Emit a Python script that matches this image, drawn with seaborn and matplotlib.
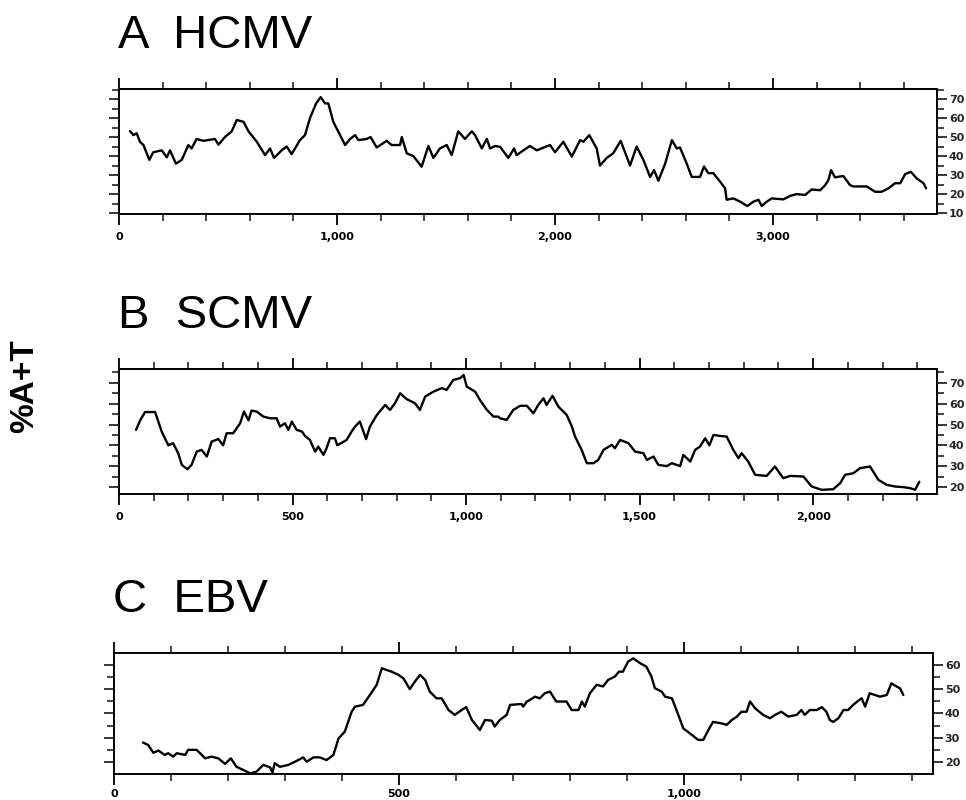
import numpy as np
import pandas as pd
import matplotlib
matplotlib.use("Agg")
import matplotlib.pyplot as plt
from matplotlib.ticker import MultipleLocator, FuncFormatter
import seaborn as sns

# HCMV: position (bp) and %A+T
hcmv_pos = [50, 66, 81, 96, 112, 139, 157, 196, 219, 234, 261, 288, 318, 333, 356, 387,
            440, 456, 486, 517, 540, 571, 594, 632, 670, 693, 711, 746, 769, 792, 830, 853,
            876, 904, 925, 945, 960, 983, 1014, 1037, 1060, 1083, 1098, 1136, 1154, 1182,
            1228, 1250, 1289, 1297, 1320, 1350, 1388, 1419, 1442, 1472, 1503, 1526, 1556,
            1587, 1618, 1633, 1664, 1687, 1702, 1725, 1748, 1786, 1812, 1824, 1855, 1885,
            1916, 1977, 2000, 2038, 2077, 2115, 2130, 2157, 2191, 2206, 2237, 2267, 2301,
            2344, 2374, 2405, 2436, 2454, 2474, 2505, 2536, 2558, 2573, 2604, 2627, 2665,
            2683, 2703, 2726, 2757, 2780, 2787, 2818, 2849, 2882, 2910, 2933, 2948, 2971,
            2994, 3047, 3078, 3108, 3147, 3177, 3216, 3239, 3254, 3266, 3284, 3322, 3353,
            3368, 3429, 3468, 3498, 3529, 3560, 3583, 3606, 3632, 3659, 3690, 3702]
hcmv_at = [53.2, 51, 52, 47.5, 45.8, 38, 42, 43, 39.3, 43, 36, 38, 45.8, 44, 49, 48,
           49, 46, 50, 53, 59, 58, 53, 47.5, 40.5, 44, 39, 43, 45, 41, 48.4, 51,
           60, 67.7, 71, 67.7, 67.7, 58, 51, 45.8, 49, 51, 48.4, 49, 50, 44.5,
           48, 45.8, 45.8, 50, 41.4, 40, 34.4, 45.3, 39, 44, 45.8, 40.5, 53,
           49, 53, 51, 44, 49, 44, 45.3, 44.8, 39, 44, 40.5, 43, 45.3,
           43, 45.8, 42, 47.5, 39.7, 48.4, 47.5, 51, 44, 35, 39, 41.5, 48,
           35, 45, 38, 29, 32.6, 27, 36, 48.4, 44, 44.5, 36, 29, 29,
           34.5, 31, 31, 26.5, 23, 17, 17.7, 16, 13.7, 16, 17, 13.7, 16,
           17.7, 17.2, 19, 20, 19.5, 22.4, 22, 24.7, 27.4, 32.6, 28.8, 29.5, 24.7,
           24, 24, 21.2, 21.2, 23, 25.7, 25.7, 30.5, 31.7, 28.2, 25.7, 23]

# SCMV
scmv_pos = [49, 61, 75, 104, 123, 142, 156, 171, 181, 197, 209, 224, 238, 253, 267, 286,
            300, 310, 329, 349, 360, 373, 382, 397, 416, 435, 454, 464, 478, 488, 498, 512,
            527, 536, 550, 565, 574, 589, 598, 608, 622, 629, 656, 670, 680, 694, 712, 723,
            743, 767, 781, 795, 810, 829, 853, 867, 882, 906, 930, 944, 963, 983, 993, 1002,
            1026, 1040, 1060, 1079, 1093, 1098, 1117, 1136, 1156, 1175, 1194, 1208, 1223,
            1232, 1249, 1266, 1290, 1305, 1314, 1333, 1348, 1367, 1381, 1396, 1420, 1429,
            1444, 1468, 1487, 1511, 1521, 1540, 1554, 1578, 1593, 1617, 1626, 1646, 1660,
            1674, 1689, 1701, 1713, 1732, 1751, 1770, 1785, 1794, 1813, 1833, 1866, 1890,
            1914, 1934, 1972, 1996, 2025, 2058, 2078, 2092, 2116, 2135, 2164, 2188, 2212,
            2236, 2260, 2280, 2294, 2306]
scmv_at = [47.4, 52, 56, 56, 46.6, 40, 41, 36, 30.6, 28.5, 30.6, 37, 37.8, 34.6, 41.8, 43,
           40, 45.8, 45.8, 50.6, 56.2, 52, 56.7, 56.2, 53.8, 53, 53, 49, 50.6, 47.4, 51.4, 47.4,
           46.6, 44.5, 42.6, 37, 39.4, 35.4, 38.6, 43.4, 43.4, 40, 42.6, 46.6, 49, 51.4, 43, 49,
           54.6, 59.4, 57, 60.2, 65, 62.2, 60.2, 57, 63.4, 65.8, 67.5, 66.6, 71.4, 72.3, 73.8, 68.2,
           65.8, 61.8, 57, 53.8, 53.8, 53, 52.2, 57, 59, 59, 55.4, 59.4, 62.6,
           59.4, 63.8, 58.6, 54.6, 49, 44.2, 37.8, 31.4, 31.4, 33, 37.8, 40.2, 38.6,
           42.6, 41, 37, 36.2, 33, 34.6, 30.6, 30, 31.4, 30, 35.4, 32.2, 37.8,
           39.4, 43.4, 40, 45, 44.5, 44.2, 37.8, 33.8, 36.2, 32.2, 25.8, 25.3, 29.8,
           24.2, 25.3, 25, 20.2, 18.6, 18.9, 21.8, 25.8, 26.6, 29, 29.8, 23.4, 21,
           20.2, 19.9, 19.4, 18.6, 22.5]

# EBV
ebv_pos = [51, 60, 69, 78, 89, 95, 104, 110, 125, 130, 145, 160, 171, 183, 195, 205,
           215, 227, 239, 250, 262, 274, 278, 282, 291, 306, 321, 332, 338, 350, 361, 373,
           385, 394, 405, 417, 423, 437, 449, 461, 470, 478, 487, 499, 508, 519, 528, 537,
           546, 554, 566, 575, 587, 598, 610, 618, 628, 642, 651, 663, 668, 677, 689, 695,
           715, 718, 724, 730, 739, 747, 756, 765, 776, 794, 803, 815, 821, 826, 835, 847,
           858, 867, 879, 886, 893, 902, 911, 923, 934, 943, 949, 961, 967, 979, 987, 999,
           1011, 1025, 1034, 1043, 1051, 1066, 1075, 1084, 1093, 1101, 1110, 1116, 1125,
           1139, 1151, 1160, 1171, 1183, 1198, 1206, 1212, 1221, 1233, 1242, 1250, 1256,
           1262, 1271, 1280, 1288, 1297, 1304, 1312, 1318, 1326, 1335, 1344, 1356, 1364,
           1373, 1379, 1385]
ebv_at = [28, 27, 23.8, 24.7, 22.9, 23.6, 22.2, 23.6, 22.9, 25, 25, 21.5, 22.2, 21.5, 19.2, 21.5,
          18, 16.7, 15.3, 16, 18.8, 17.8, 15.6, 19.5, 18, 18.8, 20.5, 21.9, 20.1, 21.9, 21.9, 20.8,
          22.9, 29.7, 32.5, 40.7, 42.8, 43.5, 47.6, 51.8, 58.6, 57.9, 57.2, 55.9, 54.4, 50, 53.1, 55.9,
          53.8, 49, 46.2, 46.2, 41.4, 39.4, 41.4, 42.6, 37.3, 33.2, 37.3, 37, 34.6, 37.3, 39.4, 43.5,
          43.9, 42.8, 44.8, 45.6, 46.9, 46.2, 48.3, 49, 44.9, 44.9, 41.4, 41.4, 44.9, 42.8, 48.3, 51.8,
          51.1, 53.8, 55.2, 57.2, 57.2, 61.3, 62.7, 60.7, 59.3, 55.2, 50.4, 49, 46.9, 46.2, 41.4, 33.8,
          31.7, 29.1, 29.1, 33.2, 36.5, 35.9, 35.3, 37.3, 38.7, 40.7, 40.7, 44.9, 42.1,
          39.4, 38, 39.4, 40.7, 38.7, 39.4, 41.4, 39.4, 41.4, 41.4, 42.6, 40.7, 37.3,
          36.5, 38, 41.4, 41.4, 43.5, 44.9, 46.2, 42.8, 48.3, 47.6, 46.9, 47.6, 52.4,
          51.1, 50.4, 47.6]

titles = ["A  HCMV", "B  SCMV", "C  EBV"]
ylabel = "%A+T"

sns.set_style("ticks")
plt.rcParams['font.family'] = ['Liberation Sans', 'DejaVu Sans']

fig = plt.figure(figsize=(9.66, 8), dpi=100)

panels = [
    # pos, values, axes rect, xlim, ylim, x major, x minor, y major ticks, x label pad
    (hcmv_pos, hcmv_at, [0.1232, 0.7325, 0.8468, 0.1563], (0, 3752), (9.5, 75.3), 1000, 200, [10, 20, 30, 40, 50, 60, 70], 5),
    (scmv_pos, scmv_at, [0.1232, 0.3825, 0.8468, 0.1563], (0, 2357), (16.6, 76.7), 500, 100, [20, 30, 40, 50, 60, 70], 5),
    (ebv_pos, ebv_at, [0.1180, 0.0325, 0.8478, 0.1513], (0, 1437), (15.05, 64.9), 500, 100, [20, 30, 40, 50, 60], 2.5),
]

tick_font = dict(family='DejaVu Sans', weight='bold', size=8)

for (pos, vals, rect, xl, yl, xmaj, xmin, yticks, xpad), title in zip(panels, titles):
    ax = fig.add_axes(rect)
    df = pd.DataFrame({"pos": pos, "at": vals})
    sns.lineplot(data=df, x="pos", y="at", ax=ax, color="black", linewidth=1.7)
    ax.set_xlim(*xl)
    ax.set_ylim(*yl)
    ax.set_xlabel("")
    ax.set_ylabel("")
    for s in ax.spines.values():
        s.set_visible(True)
        s.set_linewidth(1.4)
        s.set_color("black")

    ax.xaxis.set_major_locator(MultipleLocator(xmaj))
    ax.xaxis.set_minor_locator(MultipleLocator(xmin))
    ax.xaxis.set_major_formatter(FuncFormatter(lambda v, p: f"{v:,.0f}"))
    ax.set_yticks(yticks)
    ax.yaxis.set_minor_locator(MultipleLocator(5))

    ax.yaxis.tick_right()
    ax.tick_params(axis='x', which='major', direction='out', length=8, width=1.3,
                   top=True, bottom=True, pad=xpad, colors='black')
    ax.tick_params(axis='x', which='minor', direction='out', length=5, width=1.2,
                   top=True, bottom=True)
    ax.tick_params(axis='y', which='major', direction='out', length=7, width=1.3,
                   left=True, right=True, labelleft=False, labelright=True, pad=1.5)
    ax.tick_params(axis='y', which='minor', direction='out', length=5, width=1.2,
                   left=True, right=True)
    for lab in ax.get_xticklabels() + ax.get_yticklabels():
        lab.set_fontproperties(tick_font)

    bbox = ax.get_position()
    fig.text(bbox.x0 - 0.001, bbox.y1 + 41 / 800, title, fontsize=34,
             ha='left', va='baseline', color='black')

fig.text(0.026, 0.5175, ylabel, rotation=90, fontsize=24, fontweight='bold',
         ha='center', va='center', color='black')

fig.savefig("out.png", dpi=100)
